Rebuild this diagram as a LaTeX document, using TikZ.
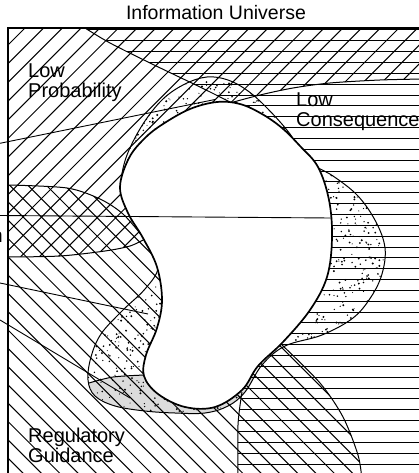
\documentclass[tikz,border=0pt]{standalone}
\usepackage{fontspec}
\setmainfont{Liberation Sans}
\definecolor{ShadeGray}{HTML}{DCDCDC}

% outline of the white core
\newcommand{\blobpath}{plot[smooth cycle, tension=0.6] coordinates {(120,187) (129,158) (145,138) (163,124) (190,109) (217,102) (240,104) (262,114) (282,128) (300,146) (318,167) (329,200) (332,238) (327,277) (310,310) (283,342) (258,366) (242,390) (215,407) (185,407) (158,394) (144,376) (146,355) (157,328) (162,300) (157,267) (143,238) (128,213)}}
% outline of the dotted ring round it
\newcommand{\ringpath}{plot[smooth cycle, tension=0.6] coordinates {(121,182) (127,155) (143,124) (163,99) (185,84) (207,77) (228,80) (248,91) (268,109) (290,134) (306,160) (333,176) (358,196) (376,222) (385,248) (382,274) (371,297) (353,318) (322,335) (285,346) (262,365) (245,392) (228,406) (205,413) (175,413) (145,411) (115,406) (95,396) (88,380) (91,357) (101,334) (122,311) (145,289) (158,268) (150,245) (135,222) (124,200)}}

\begin{document}
\begin{tikzpicture}[
	x=1pt, y=-1pt, % pixel units, y pointing down
	% Style for the hatching lines
	hatch/.style={
		draw=black,
		line width=1pt
	},
	% Style for the region borders
	border/.style={
		draw=black,
		line width=1pt
	},
	% Style for the core outline
	core/.style={
		draw=black,
		fill=white,
		line width=1.7pt
	},
	% Style for the leader lines
	leader/.style={
		draw=black,
		line width=0.9pt
	},
	% Style for the region names
	region text/.style={
		font=\fontsize{20}{22}\selectfont,
		inner sep=0pt,
		anchor=base west
	}
	]
	\useasboundingbox (0,0) rectangle (419,473);
	
	% 1. Gray tip of the ring
	\begin{scope}
		\clip \ringpath;
		\fill[ShadeGray] plot[smooth] coordinates {(80,386) (95,381) (115,377) (148,374)} -- (300,374) -- (300,430) -- (80,430) -- cycle;
	\end{scope}
	
	% 2. Hatching, kept inside the frame
	\begin{scope}
		\clip (8,28) rectangle (440,490);
		% Low Probability
		\begin{scope}
			\clip (0,20) -- (440,20) -- (440,79) -- (425,79) -- (380,80) -- (330,83) -- (293,88) -- (260,95) -- (230,103) -- (145,239) -- (130,246) -- (105,251) -- (60,256) -- (0,257) -- cycle;
			\foreach \k in {-1,...,26}
				\draw[hatch] ({85+18.7*\k},-32) -- ++(-700,700);
		\end{scope}
		% Low Consequence
		\begin{scope}
			\clip (80,20) -- plot[smooth] coordinates {(85,28) (110,43) (150,63) (200,87) (230,102)} -- plot[smooth] coordinates {(242,392) (238,425) (238,490)} -- (440,490) -- (440,20) -- cycle;
			\foreach \k in {0,...,42}
				\draw[hatch] (60,{30+10.85*\k}) -- (440,{30+10.85*\k});
		\end{scope}
		% Regulatory Guidance
		\begin{scope}
			\clip (0,185) -- plot[smooth] coordinates {(8,185) (67,188) (100,199) (123,214) (143,237)} -- plot[smooth] coordinates {(281,344) (320,383) (343,417) (358,455) (362,490)} -- (0,490) -- cycle;
			\foreach \k in {-17,...,8}
				\draw[hatch] (-52,{288.3+18.3*\k}) -- ++(700,700);
		\end{scope}
	\end{scope}
	
	% 3. Dots in the ring
	\begin{scope}
		\clip \ringpath;
		\pgfmathsetseed{4217}
		\foreach \k in {1,...,420}{
			\pgfmathsetmacro{\dotx}{295+95*rnd}
			\pgfmathsetmacro{\doty}{150+200*rnd}
			\pgfmathsetmacro{\dotr}{0.5+0.6*rnd}
			\fill (\dotx,\doty) circle[radius=\dotr pt];
		}
		\foreach \k in {1,...,400}{
			\pgfmathsetmacro{\dotx}{118+192*rnd}
			\pgfmathsetmacro{\doty}{75+95*rnd}
			\pgfmathsetmacro{\dotr}{0.5+0.6*rnd}
			\fill (\dotx,\doty) circle[radius=\dotr pt];
		}
		\foreach \k in {1,...,520}{
			\pgfmathsetmacro{\dotx}{85+165*rnd}
			\pgfmathsetmacro{\doty}{265+151*rnd}
			\pgfmathsetmacro{\dotr}{0.5+0.6*rnd}
			\fill (\dotx,\doty) circle[radius=\dotr pt];
		}
	\end{scope}
	
	% 4. Region borders
	\draw[border] plot[smooth] coordinates {(8,257) (60,256) (105,251) (130,246) (145,239)};
	\draw[border] plot[smooth] coordinates {(8,185) (67,188) (100,199) (123,214) (143,237)};
	\draw[border] plot[smooth] coordinates {(85,28) (110,43) (150,63) (200,87) (230,102)};
	\draw[border] plot[smooth] coordinates {(230,103) (260,95) (293,88) (330,83) (380,80) (425,79)};
	\draw[border] plot[smooth] coordinates {(242,392) (238,425) (238,480)};
	\draw[border] plot[smooth] coordinates {(281,344) (320,383) (343,417) (358,455) (362,480)};
	\draw[border] plot[smooth] coordinates {(89,383) (113,377) (145,375)};
	\draw[border] \ringpath;
	
	% 5. White core
	\path[core] \blobpath;
	
	% 6. Leader lines from the cut-off labels
	\coordinate (leadA) at (0,143.3);
	\coordinate (endA) at (215,99.5);
	\coordinate (leadB) at (0,215.5);
	\coordinate (endB) at (331,218);
	\coordinate (leadC) at (0,283);
	\coordinate (endC) at (148,314);
	\coordinate (leadD) at (0,320);
	\coordinate (endD) at (130,398);
	\draw[leader] (leadA) -- (endA);
	\draw[leader] (leadB) -- (endB);
	\draw[leader] (leadC) -- (endC);
	\draw[leader] (leadD) -- (endD);
	
	% 7. Frame
	\draw[line width=1.3pt] (8,480) -- (8,28) -- (440,28);
	
	% 8. Texts
	\node[font=\fontsize{19.5}{22}\selectfont, inner sep=0pt, anchor=base] (title) at (216,19.5) {Information Universe};
	\node[region text] (lowprob) at (28,78) {Low};
	\node[region text] (lowprobb) at (28,97.5) {Probability};
	\node[region text] (lowcons) at (296,107) {Low};
	\node[region text] (lowconsb) at (296,127) {Consequence};
	\node[region text] (reg) at (28,442) {Regulatory};
	\node[region text] (regb) at (28,462) {Guidance};
	\node[region text, anchor=base east] (cutlabel) at (3,242) {n};
	
\end{tikzpicture}
\end{document}
